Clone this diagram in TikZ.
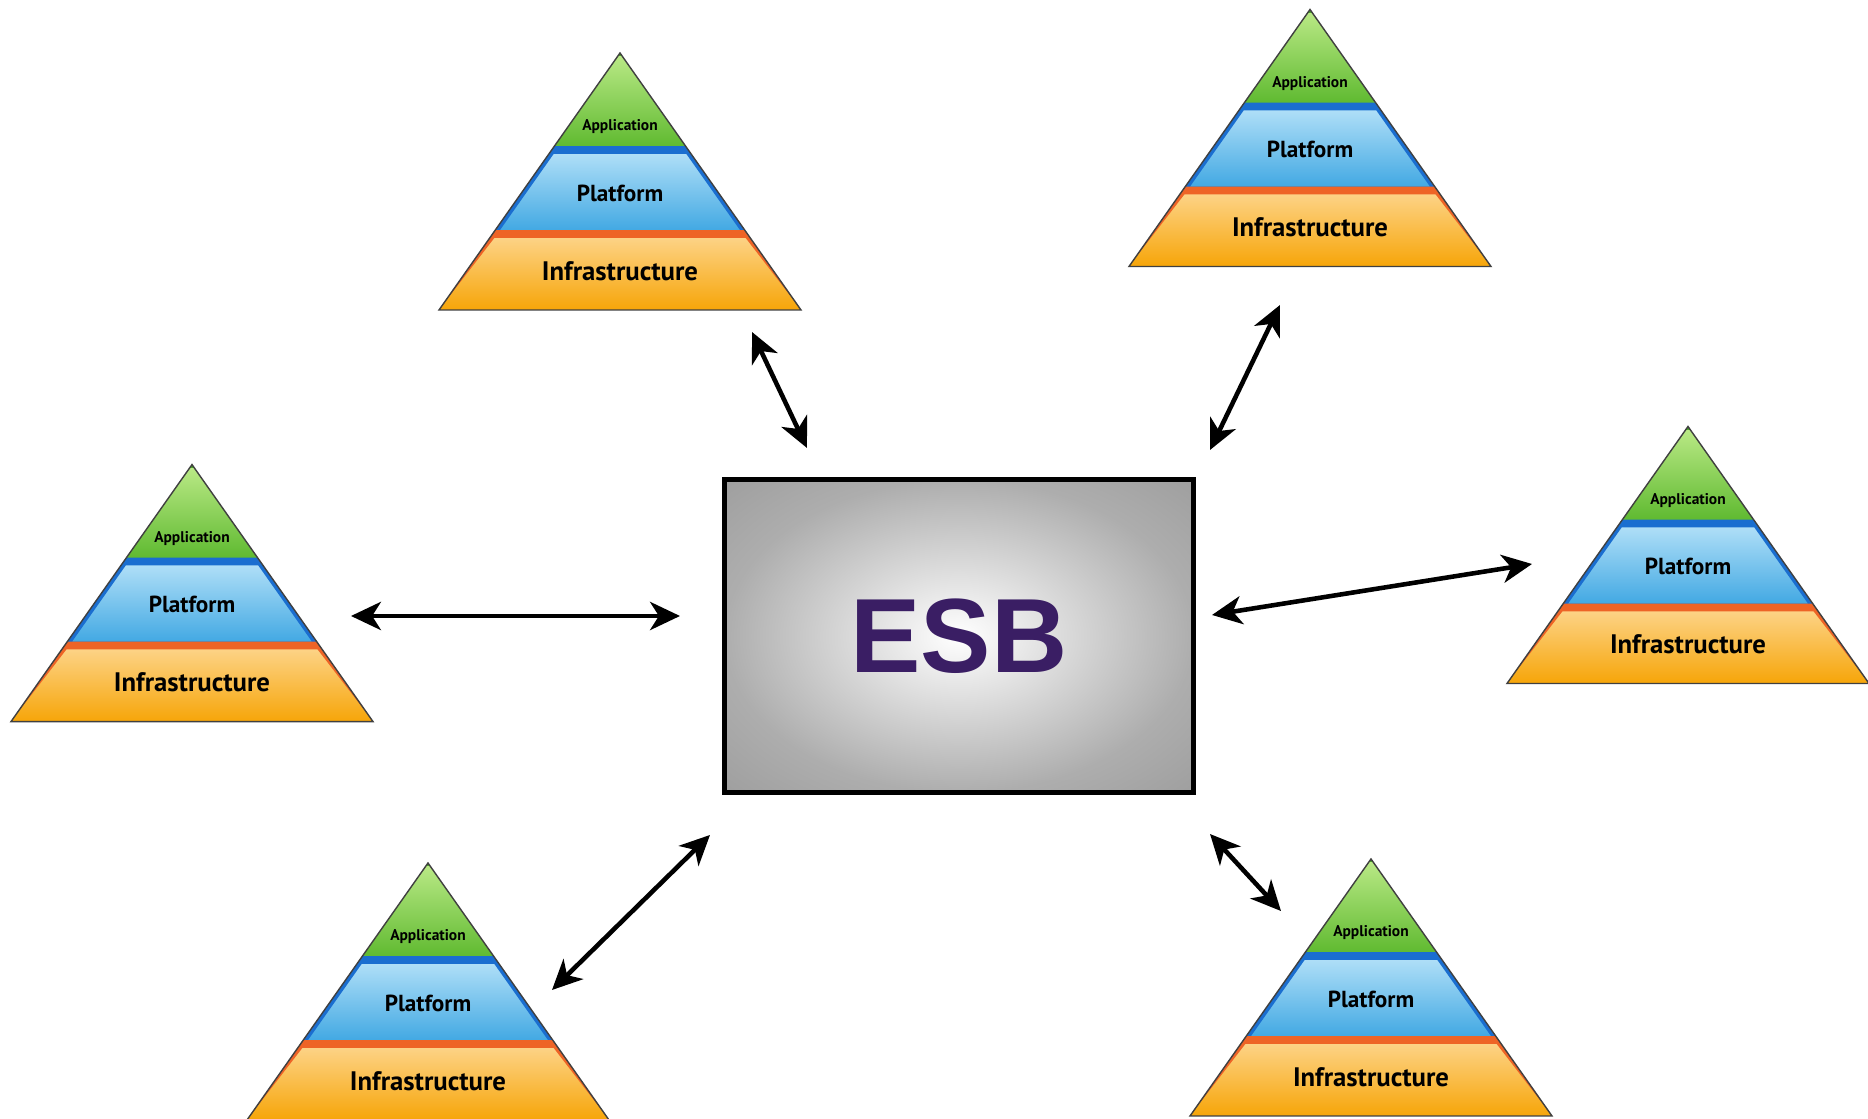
\documentclass[tikz,border=0pt]{standalone}
\usepackage{fontspec}
\setmainfont{Liberation Sans}
\newfontfamily\pyrfont{PT Sans}
\usetikzlibrary{arrows.meta}
\definecolor{appTop}{HTML}{BCEA88}
\definecolor{appBot}{HTML}{5CB82D}
\definecolor{appRim}{HTML}{4AA626}
\definecolor{platTop}{HTML}{B4E1F8}
\definecolor{platBot}{HTML}{3DA6E2}
\definecolor{platRim}{HTML}{1A6ED0}
\definecolor{infTop}{HTML}{FDD58C}
\definecolor{infBot}{HTML}{F6A200}
\definecolor{infRim}{HTML}{EE6426}
\definecolor{esbText}{HTML}{3A1E64}
\pgfdeclareradialshading{esbshade}{\pgfpoint{0bp}{0bp}}{color(0bp)=(white); color(25bp)=(black!32); color(36bp)=(black!38); color(50bp)=(black!38)}
\tikzset{
  esb/.style={draw=black, line width=1.4pt, shading=esbshade, minimum width=4.68cm, minimum height=3.12cm, inner sep=0pt},
  link/.style={line width=1.3pt, {Stealth[length=8.5pt, width=8pt, inset=2.5pt]}-{Stealth[length=8.5pt, width=8pt, inset=2.5pt]}},
  layer/.style={inner sep=0pt},
  pyramid/.pic={
    \begin{scope}
    \clip (0,0) -- (-181,257) -- (181,257) -- cycle;
    \path[top color=appTop, bottom color=appBot, draw=appRim, line width=1.8pt] (-70,0) -- (70,0) -- (70,97) -- (-70,97) -- cycle;
    \path[top color=platTop, bottom color=platBot, draw=platRim, line width=2.2pt] (-68.3,97) -- (68.3,97) -- (127.5,181) -- (-127.5,181) -- cycle;
    \path[top color=infTop, bottom color=infBot, draw=infRim, line width=2.2pt] (-127.5,181) -- (127.5,181) -- (190,262) -- (-190,262) -- cycle;
    \end{scope}
    \draw[black!75, line width=0.4pt] (0,0) -- (-181,257) -- (181,257) -- cycle;
    \node[layer, font=\pyrfont\bfseries\fontsize{4.4}{5}\selectfont] (-app) at (0,74) {Application};
    \node[layer, font=\pyrfont\bfseries\fontsize{6.6}{7}\selectfont] (-plat) at (0,140) {Platform};
    \node[layer, font=\pyrfont\bfseries\fontsize{7.6}{8}\selectfont] (-infra) at (0,218) {Infrastructure};
  }
}
\begin{document}
\begin{tikzpicture}[x=0.01cm, y=-0.01cm]
\useasboundingbox (0,0) rectangle (1868,1119);
\node[esb] (esb) at (959,636) {\fontsize{30}{36}\selectfont\bfseries\color{esbText}ESB};
\pic (pyrTop) at (620,53) {pyramid};
\pic (pyrTopR) at (1310,9.5) {pyramid};
\pic (pyrLeft) at (192,464.6) {pyramid};
\pic (pyrRight) at (1688,426.5) {pyramid};
\pic (pyrBotL) at (428,863) {pyramid};
\pic (pyrBotR) at (1371,859) {pyramid};
\coordinate (topIn) at (807,448);
\coordinate (topOut) at (752,332);
\coordinate (topRIn) at (1210,450);
\coordinate (topROut) at (1280,305);
\coordinate (leftIn) at (680,616);
\coordinate (leftOut) at (351,616);
\coordinate (rightIn) at (1212,615);
\coordinate (rightOut) at (1532,564);
\coordinate (botLIn) at (710,835);
\coordinate (botLOut) at (552,990);
\coordinate (botRIn) at (1210,834);
\coordinate (botROut) at (1281,911);
\draw[link] (topIn) -- (topOut);
\draw[link] (topRIn) -- (topROut);
\draw[link] (leftIn) -- (leftOut);
\draw[link] (rightIn) -- (rightOut);
\draw[link] (botLIn) -- (botLOut);
\draw[link] (botRIn) -- (botROut);
\end{tikzpicture}
\end{document}
